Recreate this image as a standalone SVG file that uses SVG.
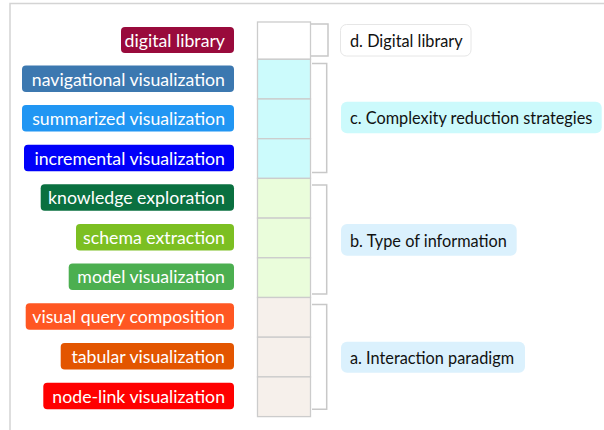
<svg xmlns="http://www.w3.org/2000/svg" width="604" height="430" viewBox="0 0 604 430">
<style>
.pill text{font-family:Lato,"Open Sans",sans-serif;font-size:17.7px;fill:#fff;text-anchor:end;dominant-baseline:central}
.cell{stroke:#cccccc;stroke-width:1.3}
.br{fill:none;stroke:#c8c8c8;stroke-width:1.5}
.lab text{font-family:Lato,"Open Sans",sans-serif;font-size:16.3px;fill:#111;dominant-baseline:central}
.lab rect{rx:6;ry:6}
</style>
<rect width="604" height="430" fill="#fff"/>
<path d="M10 430 V3.5 H604" fill="none" stroke="#d4d4d4" stroke-width="1.5"/>
<g id="column">
<rect class="cell" x="257.5" y="22" width="53" height="37.3" fill="#ffffff"/>
<rect class="cell" x="257.5" y="59.3" width="53" height="39.7" fill="#ccfbfc"/>
<rect class="cell" x="257.5" y="99" width="53" height="39.7" fill="#ccfbfc"/>
<rect class="cell" x="257.5" y="138.7" width="53" height="39.7" fill="#ccfbfc"/>
<rect class="cell" x="257.5" y="178.4" width="53" height="39.7" fill="#eafddb"/>
<rect class="cell" x="257.5" y="218.1" width="53" height="39.7" fill="#eafddb"/>
<rect class="cell" x="257.5" y="257.8" width="53" height="39.7" fill="#eafddb"/>
<rect class="cell" x="257.5" y="297.5" width="53" height="39.7" fill="#f6f0eb"/>
<rect class="cell" x="257.5" y="337.2" width="53" height="39.7" fill="#f6f0eb"/>
<rect class="cell" x="257.5" y="376.9" width="53" height="39.7" fill="#f6f0eb"/>
</g>
<g id="pill-digital-library" class="pill"><rect x="121" y="27" width="113" height="26" rx="4" fill="#990a3c"/><text x="225" y="40">digital library</text></g>
<g id="pill-navigational" class="pill"><rect x="22" y="65.5" width="212" height="26.5" rx="4" fill="#3c78b0"/><text x="225" y="79">navigational visualization</text></g>
<g id="pill-summarized" class="pill"><rect x="22" y="105" width="212" height="26.5" rx="4" fill="#2196f3"/><text x="225" y="118.5">summarized visualization</text></g>
<g id="pill-incremental" class="pill"><rect x="24" y="144.7" width="210" height="26.5" rx="4" fill="#0000fa"/><text x="225" y="158">incremental visualization</text></g>
<g id="pill-knowledge" class="pill"><rect x="40.7" y="184.2" width="193.3" height="26.5" rx="4" fill="#0a7040"/><text x="225" y="197.7">knowledge exploration</text></g>
<g id="pill-schema" class="pill"><rect x="76" y="224" width="158" height="26.5" rx="4" fill="#7cbf22"/><text x="225" y="237.3">schema extraction</text></g>
<g id="pill-model" class="pill"><rect x="68.7" y="263.5" width="165.3" height="26.5" rx="4" fill="#4caf50"/><text x="225" y="276.8">model visualization</text></g>
<g id="pill-visual-query" class="pill"><rect x="25.7" y="303.3" width="208.3" height="26.5" rx="4" fill="#ff5722"/><text x="225" y="316.6">visual query composition</text></g>
<g id="pill-tabular" class="pill"><rect x="60.7" y="343" width="173.3" height="26.5" rx="4" fill="#e35500"/><text x="225" y="356.3">tabular visualization</text></g>
<g id="pill-node-link" class="pill"><rect x="43.3" y="382.7" width="190.7" height="26.5" rx="4" fill="#ff0000"/><text x="225" y="396">node-link visualization</text></g>
<g id="connectors">
<path class="br" d="M311 24 H328 V56 H311"/>
<path class="br" d="M312 63.5 H326.7 V172.5 H312"/>
<path class="br" d="M312 185 H326.7 V294 H312"/>
<path class="br" d="M312 304.5 H326.7 V409.3 H312"/>
</g>
<g id="label-d" class="lab"><rect x="340.5" y="24.5" width="130.5" height="31.5" fill="#fff" stroke="#e6e6e6"/><text x="350" y="40.5">d. Digital library</text></g>
<g id="label-c" class="lab"><rect x="341" y="101.7" width="260.7" height="31.6" fill="#ccfafc"/><text x="350" y="117.5">c. Complexity reduction strategies</text></g>
<g id="label-b" class="lab"><rect x="341" y="224" width="175.7" height="31.7" fill="#dbf1fd"/><text x="350" y="240">b. Type of information</text></g>
<g id="label-a" class="lab"><rect x="341" y="341.7" width="184" height="31" fill="#dbf1fd"/><text x="350" y="357.2">a. Interaction paradigm</text></g>
</svg>
